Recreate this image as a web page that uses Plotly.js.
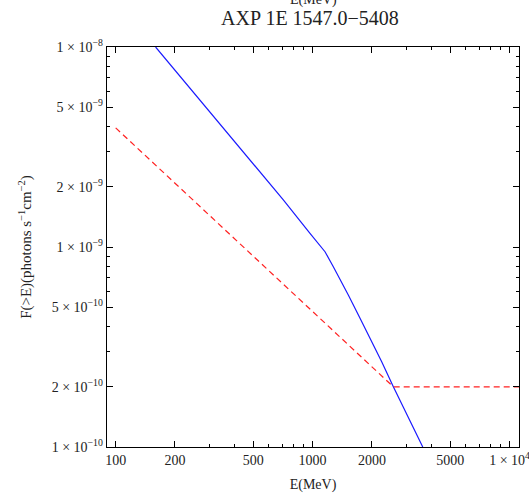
<!DOCTYPE html>
<html><head><meta charset="utf-8">
<script src="https://cdn.plot.ly/plotly-3.0.1.min.js"></script>
<style>html,body{margin:0;padding:0;background:#fff}#plot{width:529px;height:497px}</style>
</head><body><div id="plot"></div>
<script>
const blueE = [159.5, 301, 445, 710, 970, 1156, 1274, 1400, 1518, 1741, 2243, 2570, 3123, 3625];
const blueF = [1e-8, 4.75e-9, 3.0e-9, 1.72e-9, 1.171e-9, 9.47e-10, 7.97e-10, 6.7e-10, 5.75e-10, 4.40e-10, 2.67e-10, 2.0e-10, 1.365e-10, 1e-10];
const redE = [100, 2570, 11200];
const redF = [3.94e-9, 2.0e-10, 2.0e-10];
const xTickVals = [100, 200, 500, 1000, 2000, 5000, 10000];
const xTickText = ['100', '200', '500', '1000', '2000', '5000', '1 × 10<sup>4</sup>'];
const yTickVals = [1e-10, 2e-10, 5e-10, 1e-9, 2e-9, 5e-9, 1e-8];
const yTickText = ['1 × 10<sup>−10</sup>', '2 × 10<sup>−10</sup>', '5 × 10<sup>−10</sup>', '1 × 10<sup>−9</sup>', '2 × 10<sup>−9</sup>', '5 × 10<sup>−9</sup>', '1 × 10<sup>−8</sup>'];
const xMinor = [300, 400, 600, 700, 800, 900, 3000, 4000, 6000, 7000, 8000, 9000];
const yMinor = [3e-10, 4e-10, 6e-10, 7e-10, 8e-10, 9e-10, 3e-9, 4e-9, 6e-9, 7e-9, 8e-9, 9e-9];

const xr = [1.956, 4.048], yr = [-10, -8];
const fam = 'Liberation Serif, Times New Roman, serif';
const txt = '#222';

const traces = [
  {x: blueE, y: blueF, mode: 'lines', line: {color: '#1a1aff', width: 1.2}, hoverinfo: 'skip'},
  {x: redE, y: redF, mode: 'lines', line: {color: '#ff2020', width: 1.2, dash: '6px,4px'}, hoverinfo: 'skip'},
  {x: [1000], y: [1e-9], xaxis: 'x2', yaxis: 'y2', mode: 'markers', marker: {opacity: 0}, hoverinfo: 'skip'}
];

const layout = {
  width: 529, height: 497,
  margin: {l: 107, r: 10, t: 47, b: 50},
  paper_bgcolor: '#fff', plot_bgcolor: '#fff',
  showlegend: false,
  font: {family: fam, size: 14, color: txt},
  title: {text: 'AXP 1E 1547.0−5408', x: 0.586, xanchor: 'center', y: 0.963, yanchor: 'middle', font: {family: fam, size: 20, color: txt}},
  xaxis: {type: 'log', range: xr, tickvals: xTickVals, ticktext: xTickText, ticks: 'inside', ticklen: 6, tickwidth: 1, tickcolor: '#000',
    showline: true, linecolor: '#000', linewidth: 1.3, mirror: 'ticks', showgrid: false, zeroline: false,
    ticklabeloverflow: 'allow',
    tickfont: {family: fam, size: 14, color: txt},
    title: {text: 'E(MeV)', font: {family: fam, size: 14, color: txt}, standoff: 12}},
  yaxis: {type: 'log', range: yr, tickvals: yTickVals, ticktext: yTickText, ticks: 'inside', ticklen: 6, tickwidth: 1, tickcolor: '#000',
    showline: true, linecolor: '#000', linewidth: 1.3, mirror: 'ticks', showgrid: false, zeroline: false,
    ticklabeloverflow: 'allow',
    tickfont: {family: fam, size: 14, color: txt},
    title: {text: 'F(>E)(photons s<sup>−1</sup>cm<sup>−2</sup>)', font: {family: fam, size: 15, color: txt}, standoff: 16}},
  xaxis2: {type: 'log', range: xr, overlaying: 'x', anchor: 'y2', tickvals: xMinor, ticks: 'inside', ticklen: 3, tickcolor: '#000',
    showticklabels: false, showgrid: false, zeroline: false, showline: false, mirror: 'ticks'},
  yaxis2: {type: 'log', range: yr, overlaying: 'y', anchor: 'x2', tickvals: yMinor, ticks: 'inside', ticklen: 3, tickcolor: '#000',
    showticklabels: false, showgrid: false, zeroline: false, showline: false, mirror: 'ticks'},
  annotations: [
    {text: 'E(MeV)', xref: 'paper', yref: 'paper', x: 0.5, y: 1.118, xanchor: 'center', yanchor: 'middle', showarrow: false,
     font: {family: fam, size: 14, color: txt}}
  ]
};
Plotly.newPlot('plot', traces, layout, {staticPlot: true, displayModeBar: false});
</script></body></html>
